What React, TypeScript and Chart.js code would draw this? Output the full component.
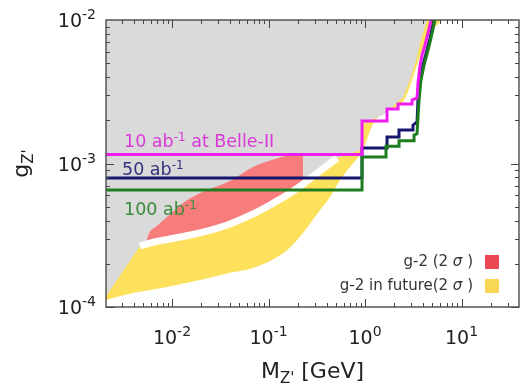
import React, { useEffect, useRef } from 'react';
import { Chart, registerables } from 'chart.js';

Chart.register(...registerables);

// ---- axis ranges and ticks ----
const X_MIN = 0.00207;
const X_MAX = 39.4;
const Y_MIN = 1e-4;
const Y_MAX = 1e-2;
const xMajorTicks = [0.01, 0.1, 1, 10];
const xTickExponents = ['-2', '-1', '0', '1'];
const yMajorTicks = [1e-4, 1e-3, 1e-2];
const yTickExponents = ['-4', '-3', '-2'];

// ---- Belle-II sensitivity curves ----
const belle10X = [0.00207, 0.931, 0.931, 1.69, 1.69, 2.2, 2.2, 3.07, 3.07, 3.46, 3.54, 3.72, 3.9, 4.19, 4.5, 4.84];
const belle10Y = [1.156e-3, 1.156e-3, 1.98e-3, 1.98e-3, 2.4e-3, 2.4e-3, 2.6e-3, 2.6e-3, 2.77e-3, 2.86e-3, 3.64e-3, 4.85e-3, 5.7e-3, 6.7e-3, 8.12e-3, 1.0e-2];

const belle50X = [0.00207, 0.931, 0.931, 1.69, 1.69, 2.25, 2.25, 3.14, 3.14, 3.46, 3.54, 3.72, 3.99, 4.39, 4.72, 5.19];
const belle50Y = [7.93e-4, 7.93e-4, 1.28e-3, 1.28e-3, 1.53e-3, 1.53e-3, 1.71e-3, 1.71e-3, 1.85e-3, 1.95e-3, 2.77e-3, 3.82e-3, 4.85e-3, 6.18e-3, 7.49e-3, 1.0e-2];

const belle100X = [0.00207, 0.931, 0.931, 1.65, 1.65, 2.25, 2.25, 3.22, 3.22, 3.46, 3.54, 3.63, 3.8, 4.09, 4.5, 4.83, 5.31];
const belle100Y = [6.53e-4, 6.53e-4, 1.11e-3, 1.11e-3, 1.32e-3, 1.32e-3, 1.44e-3, 1.44e-3, 1.58e-3, 1.61e-3, 2.11e-3, 2.77e-3, 3.82e-3, 4.85e-3, 6.18e-3, 7.49e-3, 1.0e-2];

// ---- excluded (gray) region: lower boundary ----
const excludedX = [0.00207, 0.00466, 0.00591, 0.00954, 0.0195, 0.0399, 0.0691, 0.1037, 0.1555, 0.228, 0.342, 0.513, 0.7, 0.931, 0.953, 1.54, 2.48, 2.92, 3.38, 3.8, 4.39];
const excludedY = [1.19e-4, 2.66e-4, 2.79e-4, 2.98e-4, 3.28e-4, 3.79e-4, 4.45e-4, 5.14e-4, 6.03e-4, 7.19e-4, 8.87e-4, 1.09e-3, 1.18e-3, 1.24e-3, 1.91e-3, 2.18e-3, 2.9e-3, 3.82e-3, 5.26e-3, 7.26e-3, 1.0e-2];

// ---- white separating curve ----
const whiteX = [0.00466, 0.00591, 0.00954, 0.0195, 0.0399, 0.0691, 0.1037, 0.1555, 0.228, 0.342, 0.513];
const whiteY = [2.66e-4, 2.79e-4, 2.98e-4, 3.28e-4, 3.79e-4, 4.45e-4, 5.14e-4, 6.03e-4, 7.19e-4, 8.87e-4, 1.09e-3];

// ---- g-2 (2 sigma) band ----
const g2TopX = [0.00538, 0.00564, 0.00716, 0.00888, 0.013, 0.0195, 0.0399, 0.0691, 0.1167, 0.188, 0.228];
const g2TopY = [2.75e-4, 3.13e-4, 3.73e-4, 4.24e-4, 5.31e-4, 6.23e-4, 7.55e-4, 9.46e-4, 1.075e-3, 1.166e-3, 1.18e-3];
const g2BotX = [0.00538, 0.00591, 0.00954, 0.0195, 0.0399, 0.0691, 0.1037, 0.1555, 0.228];
const g2BotY = [2.75e-4, 2.79e-4, 2.98e-4, 3.28e-4, 3.79e-4, 4.45e-4, 5.14e-4, 6.03e-4, 7.19e-4];

// ---- g-2 in future (2 sigma) band ----
const futTopX = [0.00207, 0.00466, 0.0195, 0.0691, 0.228, 0.513, 0.888, 1.54, 2.48, 3.14, 3.54, 3.9, 6.43];
const futTopY = [2.93e-4, 2.93e-4, 3.55e-4, 4.9e-4, 7.93e-4, 1.2e-3, 2.01e-3, 2.44e-3, 3.25e-3, 4.85e-3, 7.86e-3, 1.0e-2, 1.0e-2];
const futBotX = [0.00207, 0.00394, 0.00888, 0.0195, 0.0399, 0.0691, 0.1555, 0.228, 0.342, 0.434, 0.551, 0.7, 0.888, 0.953, 1.21, 1.61, 2.54, 3.07, 3.54, 4.09, 4.72, 5.44, 6.43];
const futBotY = [1.12e-4, 1.25e-4, 1.38e-4, 1.54e-4, 1.73e-4, 1.87e-4, 2.49e-4, 3.28e-4, 4.74e-4, 5.84e-4, 7.67e-4, 9.46e-4, 1.15e-3, 1.24e-3, 1.88e-3, 2.29e-3, 2.77e-3, 3.82e-3, 5.1e-3, 6.7e-3, 8.12e-3, 9.08e-3, 1.0e-2];

const FONT = "'DejaVu Sans', sans-serif";

type Part = { text: string; size: number; dy?: number; italic?: boolean; w?: number };

function rich(ctx: CanvasRenderingContext2D, parts: Part[], x: number, y: number, align: 'left' | 'center' | 'right') {
  let total = 0;
  for (const p of parts) {
    ctx.font = `${p.italic ? 'italic ' : ''}${p.size}px ${FONT}`;
    p.w = ctx.measureText(p.text).width;
    total += p.w;
  }
  let cx = align === 'left' ? x : align === 'center' ? x - total / 2 : x - total;
  ctx.textAlign = 'left';
  ctx.textBaseline = 'alphabetic';
  for (const p of parts) {
    ctx.font = `${p.italic ? 'italic ' : ''}${p.size}px ${FONT}`;
    ctx.fillText(p.text, cx, y + (p.dy || 0));
    cx += p.w || 0;
  }
}

const pts = (xs: number[], ys: number[]) => xs.map((x, i) => ({ x, y: ys[i] }));

const decorPlugin = {
  id: 'decor',
  afterDatasetsDraw(chart: any) {
    const { ctx, chartArea: a, scales } = chart;
    const xs = scales.x;
    const ys = scales.y;
    ctx.save();

    // curve labels
    ctx.fillStyle = '#d838d8';
    rich(ctx, [{ text: '10 ab', size: 17.5 }, { text: '-1', size: 12, dy: -6 }, { text: ' at Belle-II', size: 17.5 }], a.left + 18, 147, 'left');
    ctx.fillStyle = '#33337c';
    rich(ctx, [{ text: '50 ab', size: 17.5 }, { text: '-1', size: 12, dy: -6 }], a.left + 16, 175, 'left');
    ctx.fillStyle = '#3a8a3a';
    rich(ctx, [{ text: '100 ab', size: 17.5 }, { text: '-1', size: 12, dy: -6 }], a.left + 18, 215, 'left');

    // legend
    ctx.fillStyle = '#333';
    rich(ctx, [{ text: 'g-2 (2 ', size: 15 }, { text: 'σ', size: 15, italic: true }, { text: ' )', size: 15 }], 473, 266, 'right');
    rich(ctx, [{ text: 'g-2 in future(2 ', size: 15 }, { text: 'σ', size: 15, italic: true }, { text: ' )', size: 15 }], 473, 290, 'right');
    ctx.fillStyle = '#ea4752';
    ctx.fillRect(485, 255, 14, 14);
    ctx.fillStyle = '#f8d755';
    ctx.fillRect(485, 279, 14, 14);

    // frame
    ctx.strokeStyle = '#555';
    ctx.lineWidth = 1.5;
    ctx.strokeRect(a.left, a.top, a.right - a.left, a.bottom - a.top);

    // ticks (inside, mirrored)
    ctx.lineWidth = 1;
    ctx.strokeStyle = '#444';
    const drawX = (v: number, len: number) => {
      const px = Math.round(xs.getPixelForValue(v)) + 0.5;
      ctx.beginPath();
      ctx.moveTo(px, a.bottom); ctx.lineTo(px, a.bottom - len);
      ctx.moveTo(px, a.top); ctx.lineTo(px, a.top + len);
      ctx.stroke();
    };
    const drawY = (v: number, len: number) => {
      const py = Math.round(ys.getPixelForValue(v)) + 0.5;
      ctx.beginPath();
      ctx.moveTo(a.left, py); ctx.lineTo(a.left + len, py);
      ctx.moveTo(a.right, py); ctx.lineTo(a.right - len, py);
      ctx.stroke();
    };
    for (let e = -3; e <= 1; e++) {
      for (let k = 1; k <= 9; k++) {
        const v = k * Math.pow(10, e);
        if (v < X_MIN || v > X_MAX) continue;
        drawX(v, k === 1 ? 8 : 4);
      }
    }
    for (let e = -4; e <= -3; e++) {
      for (let k = 1; k <= 9; k++) {
        const v = k * Math.pow(10, e);
        drawY(v, k === 1 ? 8 : 4);
      }
    }

    // tick labels
    ctx.fillStyle = '#222';
    xMajorTicks.forEach((v, i) => {
      const px = xs.getPixelForValue(v);
      rich(ctx, [{ text: '10', size: 19 }, { text: xTickExponents[i], size: 14, dy: -8 }], px, 344, 'center');
    });
    yMajorTicks.forEach((v, i) => {
      const py = ys.getPixelForValue(v);
      rich(ctx, [{ text: '10', size: 19 }, { text: yTickExponents[i], size: 14, dy: -8 }], 96, py + 7, 'right');
    });

    // axis titles
    rich(ctx, [{ text: 'M', size: 22 }, { text: "Z'", size: 15, dy: 5 }, { text: ' [GeV]', size: 22 }], (a.left + a.right) / 2, 378, 'center');
    ctx.translate(28, (a.top + a.bottom) / 2);
    ctx.rotate(-Math.PI / 2);
    rich(ctx, [{ text: 'g', size: 22 }, { text: "Z'", size: 15, dy: 5 }], 0, 0, 'center');

    ctx.restore();
  },
};

export default function App() {
  const ref = useRef<HTMLCanvasElement>(null);
  useEffect(() => {
    const none = 'rgba(0,0,0,0)';
    const smooth = { cubicInterpolationMode: 'monotone' };
    const chart = new Chart(ref.current as HTMLCanvasElement, {
      type: 'line',
      data: {
        datasets: [
          { label: '10 ab-1', data: pts(belle10X, belle10Y), borderColor: '#ee1cee', borderWidth: 3, fill: false, order: 0 },
          { label: '100 ab-1', data: pts(belle100X, belle100Y), borderColor: '#1e7d1e', borderWidth: 3, fill: false, order: 1 },
          { label: '50 ab-1', data: pts(belle50X, belle50Y), borderColor: '#16166e', borderWidth: 3, fill: false, order: 2 },
          { label: 'white', data: pts(whiteX, whiteY), borderColor: '#ffffff', borderWidth: 7, fill: false, order: 3, ...smooth },
          { label: 'g2 low', data: pts(g2BotX, g2BotY), borderColor: none, borderWidth: 0, fill: false, order: 4, ...smooth },
          { label: 'g-2 (2σ)', data: pts(g2TopX, g2TopY), borderColor: none, borderWidth: 0, backgroundColor: '#f77d7d', fill: 4, order: 5, ...smooth },
          { label: 'excluded', data: pts(excludedX, excludedY), borderColor: none, borderWidth: 0, backgroundColor: '#dadada', fill: 'end', order: 6 },
          { label: 'fut top', data: pts(futTopX, futTopY), borderColor: none, borderWidth: 0, fill: false, order: 7 },
          { label: 'g-2 in future(2σ)', data: pts(futBotX, futBotY), borderColor: none, borderWidth: 0, backgroundColor: '#fde05c', fill: 7, order: 8, ...smooth },
        ] as any,
      },
      options: {
        responsive: false,
        devicePixelRatio: 1,
        animation: false,
        events: [],
        layout: { padding: { top: 20, right: 4, left: 0, bottom: 0 } },
        elements: { point: { radius: 0 }, line: { tension: 0, borderJoinStyle: 'miter' } },
        plugins: { legend: { display: false }, tooltip: { enabled: false } },
        scales: {
          x: {
            type: 'logarithmic',
            min: X_MIN,
            max: X_MAX,
            grid: { display: false },
            border: { display: false },
            ticks: { display: false },
            afterFit: (s: any) => { s.height = 84; },
          },
          y: {
            type: 'logarithmic',
            min: Y_MIN,
            max: Y_MAX,
            grid: { display: false },
            border: { display: false },
            ticks: { display: false },
            afterFit: (s: any) => { s.width = 106; },
          },
        },
      } as any,
      plugins: [decorPlugin],
    });
    return () => chart.destroy();
  }, []);
  return (
    <div style={{ position: 'fixed', left: 0, top: 0, width: 523, height: 391, background: '#fff' }}>
      <canvas ref={ref} width={523} height={391} style={{ display: 'block', width: 523, height: 391 }} />
    </div>
  );
}
